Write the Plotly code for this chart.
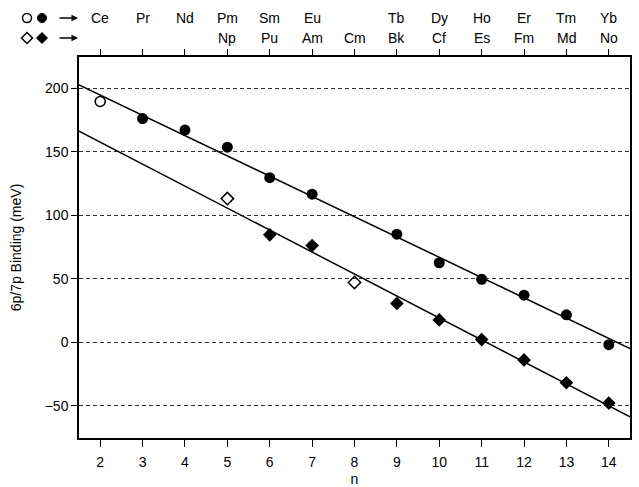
import plotly.graph_objects as go
import numpy as np

# Data
n_circ_open = [2]
v_circ_open = [189.5]
n_circ = [3, 4, 5, 6, 7, 9, 10, 11, 12, 13, 14]
v_circ = [176, 167, 153.5, 129.5, 116.5, 85, 62.5, 49.5, 37, 21.5, -2]

n_dia_open = [5, 8]
v_dia_open = [113, 47]
n_dia = [6, 7, 9, 10, 11, 12, 13, 14]
v_dia = [84.5, 76, 30.5, 17.5, 2, -14, -32, -48]

# fitted lines (intercept, slope)
fit_upper = [226.4, -15.96]
fit_lower = [192.0, -17.3]

n_ticks = list(range(2, 15))
lanth = ["Ce", "Pr", "Nd", "Pm", "Sm", "Eu", "", "Tb", "Dy", "Ho", "Er", "Tm", "Yb"]
actin = ["", "", "", "Np", "Pu", "Am", "Cm", "Bk", "Cf", "Es", "Fm", "Md", "No"]

y_ticks = [-50, 0, 50, 100, 150, 200]

FONT = "Liberation Sans, Arial, Helvetica, sans-serif"
FS = 14

fig = go.Figure()

xr = [1.5, 14.5]
xl = np.array(xr)
fig.add_trace(go.Scatter(x=xl, y=fit_upper[0] + fit_upper[1] * xl, mode="lines",
                         line=dict(color="black", width=1.5), showlegend=False, hoverinfo="skip"))
fig.add_trace(go.Scatter(x=xl, y=fit_lower[0] + fit_lower[1] * xl, mode="lines",
                         line=dict(color="black", width=1.5), showlegend=False, hoverinfo="skip"))

fig.add_trace(go.Scatter(x=n_circ, y=v_circ, mode="markers",
                         marker=dict(symbol="circle", size=11, color="black"), showlegend=False))
fig.add_trace(go.Scatter(x=n_circ_open, y=v_circ_open, mode="markers",
                         marker=dict(symbol="circle-open", size=10, color="black", line=dict(width=1.5)),
                         showlegend=False))
fig.add_trace(go.Scatter(x=n_dia, y=v_dia, mode="markers",
                         marker=dict(symbol="diamond", size=10.5, color="black"), showlegend=False))
fig.add_trace(go.Scatter(x=n_dia_open, y=v_dia_open, mode="markers",
                         marker=dict(symbol="diamond-open", size=9.5, color="black", line=dict(width=1.5)),
                         showlegend=False))
# invisible trace for top axis
fig.add_trace(go.Scatter(x=xr, y=[0, 0], xaxis="x2", mode="markers",
                         marker=dict(opacity=0), showlegend=False, hoverinfo="skip"))

for nt, la, ac in zip(n_ticks, lanth, actin):
    if la:
        fig.add_annotation(x=nt, y=1, xref="x", yref="paper", text=la, showarrow=False,
                           yanchor="middle", yshift=39, font=dict(family=FONT, size=FS, color="black"))
    if ac:
        fig.add_annotation(x=nt, y=1, xref="x", yref="paper", text=ac, showarrow=False,
                           yanchor="middle", yshift=19, font=dict(family=FONT, size=FS, color="black"))

# legend glyphs (top-left), pixel-sized shapes anchored in paper coords
PH = 381.0
W = 551.0
def px(p):
    return (p - 79) / W
for ys in (39, 19):
    yp = 1 + ys / PH
    fig.add_annotation(x=px(78), y=yp, xref="paper", yref="paper", ax=-20, ay=0,
                       axref="pixel", ayref="pixel", text="", showarrow=True,
                       arrowhead=2, arrowsize=1, arrowwidth=1.3, arrowcolor="black")
r = 4.5
fig.add_shape(type="circle", xref="paper", yref="paper", xsizemode="pixel", ysizemode="pixel",
              xanchor=px(27), yanchor=1 + 39 / PH, x0=-r, x1=r, y0=-r, y1=r,
              line=dict(color="black", width=1.5), fillcolor="white")
fig.add_shape(type="circle", xref="paper", yref="paper", xsizemode="pixel", ysizemode="pixel",
              xanchor=px(42), yanchor=1 + 39 / PH, x0=-r, x1=r, y0=-r, y1=r,
              line=dict(color="black", width=1), fillcolor="black")
d = 5.5
dpath = f"M {-d},0 L 0,{d} L {d},0 L 0,{-d} Z"
fig.add_shape(type="path", xref="paper", yref="paper", xsizemode="pixel", ysizemode="pixel",
              xanchor=px(27), yanchor=1 + 19 / PH, path=dpath,
              line=dict(color="black", width=1.5), fillcolor="white")
fig.add_shape(type="path", xref="paper", yref="paper", xsizemode="pixel", ysizemode="pixel",
              xanchor=px(42), yanchor=1 + 19 / PH, path=dpath,
              line=dict(color="black", width=1), fillcolor="black")

fig.update_layout(
    width=639, height=487,
    margin=dict(l=79, r=9, t=57, b=49),
    plot_bgcolor="white", paper_bgcolor="white",
    font=dict(family=FONT, size=FS, color="black"),
    xaxis=dict(range=xr, tickvals=n_ticks, ticks="outside", ticklen=7, tickwidth=1.3,
               tickcolor="black", showgrid=False, zeroline=False, automargin=False,
               showline=True, linecolor="black", linewidth=1.5, mirror=True,
               ticklabelstandoff=3,
               title=dict(text="n", font=dict(size=FS), standoff=8),
               tickfont=dict(size=FS)),
    xaxis2=dict(range=xr, overlaying="x", side="top", tickvals=n_ticks, ticks="outside",
                ticklen=7, tickwidth=1.3, tickcolor="black", showticklabels=False,
                showgrid=False, zeroline=False, showline=False, automargin=False),
    yaxis=dict(range=[-75.5, 224.5], tickvals=y_ticks, ticks="outside", ticklen=6, tickwidth=1.3,
               tickcolor="black", showgrid=True, gridcolor="#333333", griddash="4px,3px", gridwidth=1,
               zeroline=False, showline=True, linecolor="black", linewidth=1.5, mirror=True,
               automargin=False,
               title=dict(text="6p/7p Binding (meV)", font=dict(size=FS), standoff=20),
               tickfont=dict(size=FS)),
)

fig.write_html("out.html", config={"displayModeBar": False},
               post_script="document.body.style.margin='0';document.body.style.padding='0';")
